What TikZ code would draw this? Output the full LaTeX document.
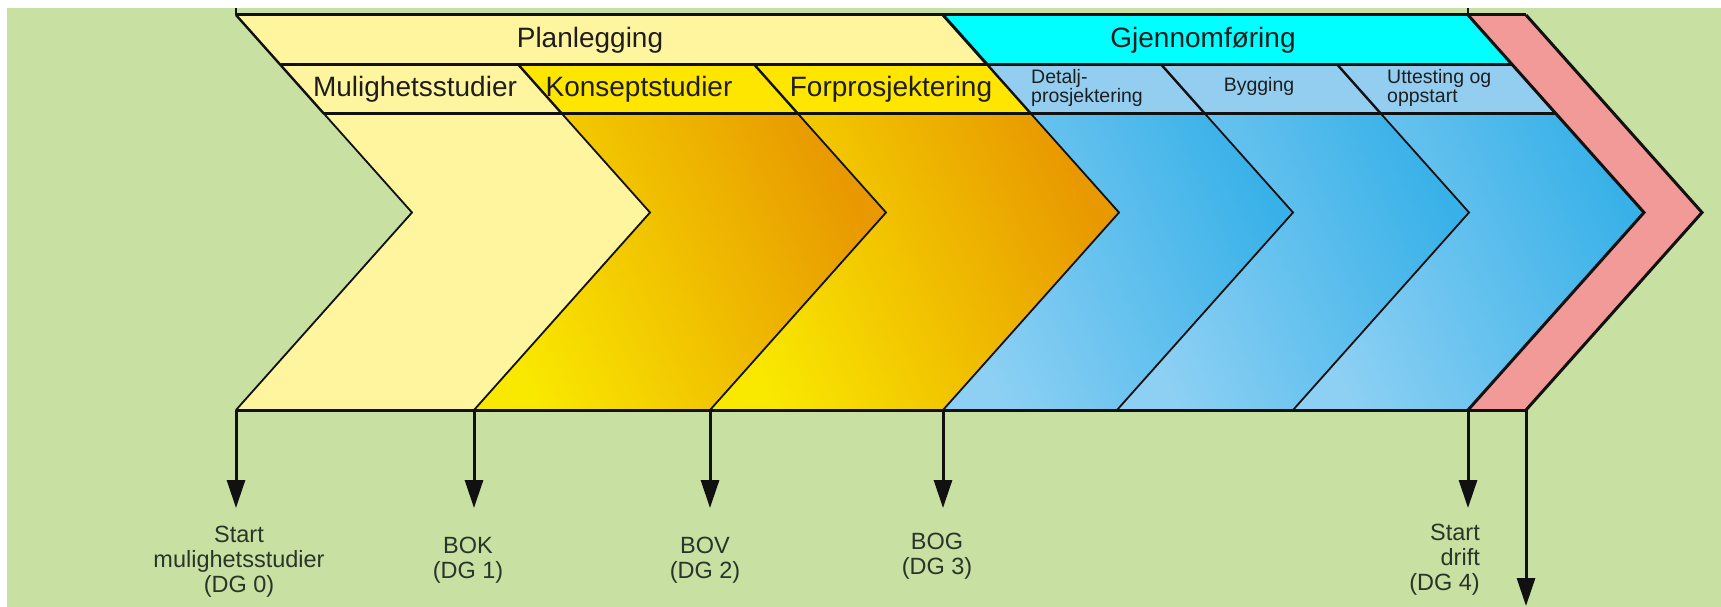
\documentclass[tikz,border=0pt]{standalone}
\usepackage{fontspec}
\setmainfont{Liberation Sans}
\usetikzlibrary{arrows.meta}
\definecolor{bg}{HTML}{C8E0A2}
\definecolor{paleY}{HTML}{FFF59F}
\definecolor{yellowR}{HTML}{FFE600}
\definecolor{yellowC}{HTML}{F9E800}
\definecolor{orangeC}{HTML}{E89800}
\definecolor{blueR}{HTML}{93CEF1}
\definecolor{blueL}{HTML}{8DD0F4}
\definecolor{blueD}{HTML}{38B1E8}
\definecolor{cyanC}{HTML}{00FFFF}
\definecolor{pinkC}{HTML}{F19A97}
\definecolor{linec}{HTML}{111111}
\definecolor{txt}{HTML}{1E1E1E}
\definecolor{lbltxt}{HTML}{2A352A}
\begin{document}
\begin{tikzpicture}[x=1pt,y=-1pt,line join=miter,
  thickl/.style={line width=3pt, draw=linec},
  midl/.style={line width=2.4pt, draw=linec},
  thinl/.style={line width=1.8pt, draw=linec},
  rowtxt/.style={font=\fontsize{28}{30}\selectfont, text=txt, inner sep=0pt},
  smalltxt/.style={font=\fontsize{19.5}{19}\selectfont, text=txt, inner sep=0pt, align=left},
  lbl/.style={font=\fontsize{23.5}{25}\selectfont, text=lbltxt, inner sep=0pt},
  milestone/.style={line width=3pt, draw=linec, -{Triangle[width=18pt,length=28pt]}},
  warmband/.style={top color=orangeC, bottom color=yellowC, shading angle=-65},
  coolband/.style={top color=blueD, bottom color=blueL, shading angle=-65}
]
\useasboundingbox (0,0) rectangle (1721,607);
\fill[white] (0,0) rectangle (1721,607);
\fill[bg] (7,8) rectangle (1721,607);

\foreach \n/\b in {0/236,1/474,2/710,3/943,4/1117,5/1293,6/1468,7/1526}{
  \coordinate (t\n) at (\b,15);
  \coordinate (a\n) at (\b+44.6,65);
  \coordinate (c\n) at (\b+88.2,114);
  \coordinate (p\n) at (\b+176,212.5);
  \coordinate (d\n) at (\b,410);
}

% main bands
\fill[paleY] (c0) -- (c1) -- (p1) -- (d1) -- (d0) -- (p0) -- cycle;
\shade[warmband] (c1) -- (c2) -- (p2) -- (d2) -- (d1) -- (p1) -- cycle;
\shade[warmband] (c2) -- (c3) -- (p3) -- (d3) -- (d2) -- (p2) -- cycle;
\shade[coolband] (c3) -- (c4) -- (p4) -- (d4) -- (d3) -- (p3) -- cycle;
\shade[coolband] (c4) -- (c5) -- (p5) -- (d5) -- (d4) -- (p4) -- cycle;
\shade[coolband] (c5) -- (c6) -- (p6) -- (d6) -- (d5) -- (p5) -- cycle;
\fill[pinkC] (t6) -- (t7) -- (p7) -- (d7) -- (d6) -- (p6) -- cycle;
% row 2
\fill[paleY] (a0) -- (a1) -- (c1) -- (c0) -- cycle;
\fill[yellowR] (a1) -- (a3) -- (c3) -- (c1) -- cycle;
\fill[blueR] (a3) -- (a6) -- (c6) -- (c3) -- cycle;
% row 1
\fill[paleY] (t0) -- (t3) -- (a3) -- (a0) -- cycle;
\fill[cyanC] (t3) -- (t6) -- (a6) -- (a3) -- cycle;

% lines
\foreach \n in {1,2,3,4,5}{
  \draw[thinl] (c\n) -- (p\n) -- (d\n);
}
\foreach \n in {1,2,3,4,5}{
  \draw[midl] (a\n) -- (c\n);
}
\draw[midl] (t0) -- (c0);
\draw[thinl] (c0) -- (p0) -- (d0);
\draw[thickl] (t3) -- (a3);
\draw[thickl] (t6) -- (p6) -- (d6);
\draw[thickl] (t7) -- (p7) -- (d7);
\draw[thickl] (a0) -- (a6);
\draw[thickl] (c0) -- (c6);
\draw[thickl] (t0) -- (t7);
\draw[thickl] (d0) -- (d7);
\coordinate (k0) at (236,8);
\coordinate (k6) at (1468,8);
\draw[midl] (k0) -- (t0);
\draw[midl] (k6) -- (t6);

% texts in rows
\node[rowtxt] (plan) at (590,40) {Planlegging};
\node[rowtxt] (gjen) at (1203,40) {Gjennomføring};
\node[rowtxt] (mul) at (415,89) {Mulighetsstudier};
\node[rowtxt] (kon) at (639,89) {Konseptstudier};
\node[rowtxt] (forp) at (891,89) {Forprosjektering};
\node[smalltxt, anchor=west] (det) at (1031,88) {Detalj-\\prosjektering};
\node[smalltxt] (byg) at (1259,86) {Bygging};
\node[smalltxt, anchor=west] (utt) at (1387,88) {Uttesting og\\oppstart};

% milestones
\coordinate (e0) at (236,508);
\coordinate (e1) at (474,508);
\coordinate (e2) at (710,508);
\coordinate (e3) at (943,508);
\coordinate (e6) at (1468,508);
\coordinate (e7) at (1526,606);
\draw[milestone] (d0) -- (e0);
\draw[milestone] (d1) -- (e1);
\draw[milestone] (d2) -- (e2);
\draw[milestone] (d3) -- (e3);
\draw[milestone] (d6) -- (e6);
\draw[milestone] (d7) -- (e7);

\node[lbl, align=center] (dg0) at (239,562) {Start\\mulighetsstudier\\(DG 0)};
\node[lbl, align=center] (dg1) at (468,560) {BOK\\(DG 1)};
\node[lbl, align=center] (dg2) at (705,560) {BOV\\(DG 2)};
\node[lbl, align=center] (dg3) at (937,556) {BOG\\(DG 3)};
\node[lbl, align=right, anchor=east] (dg4) at (1480,560) {Start\\drift\\(DG 4)};
\end{tikzpicture}
\end{document}
